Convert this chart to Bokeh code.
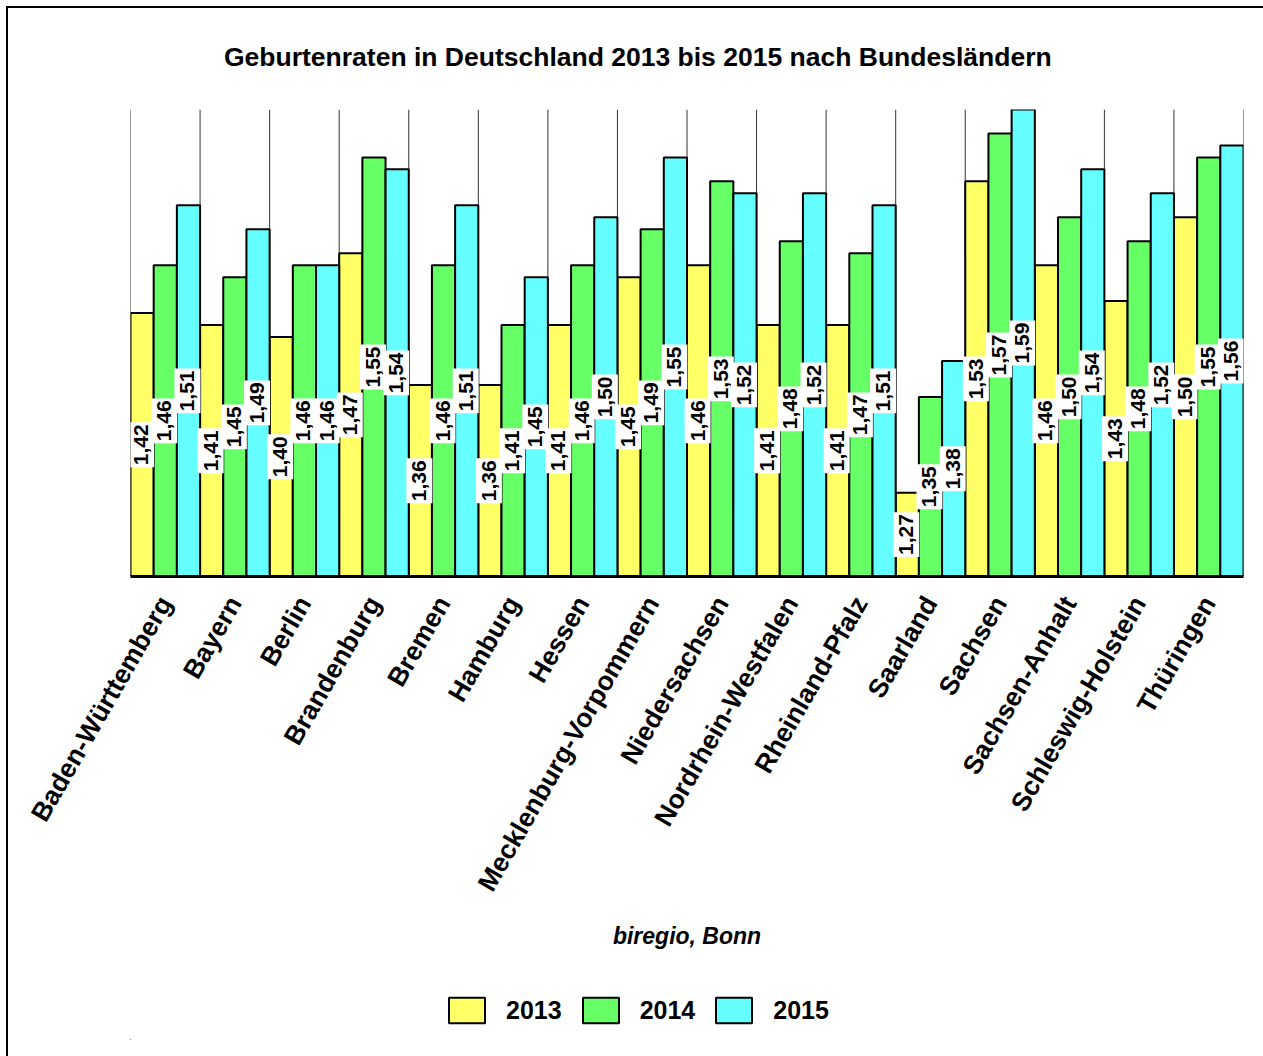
from math import pi
from bokeh.plotting import figure
from bokeh.layouts import column
from bokeh.models import (ColumnDataSource, Range1d, FactorRange, Legend, LegendItem, Title,
                          InlineStyleSheet)
from bokeh.transform import dodge
from bokeh.core.properties import value
from bokeh.embed import file_html
from bokeh.resources import INLINE

# ---- data ----
states = ["Baden-Württemberg", "Bayern", "Berlin", "Brandenburg", "Bremen", "Hamburg",
          "Hessen", "Mecklenburg-Vorpommern", "Niedersachsen", "Nordrhein-Westfalen",
          "Rheinland-Pfalz", "Saarland", "Sachsen", "Sachsen-Anhalt",
          "Schleswig-Holstein", "Thüringen"]
years = ["2013", "2014", "2015"]
rate_2013 = [1.42, 1.41, 1.40, 1.47, 1.36, 1.36, 1.41, 1.45, 1.46, 1.41, 1.41, 1.27, 1.53, 1.46, 1.43, 1.50]
rate_2014 = [1.46, 1.45, 1.46, 1.55, 1.46, 1.41, 1.46, 1.49, 1.53, 1.48, 1.47, 1.35, 1.57, 1.50, 1.48, 1.55]
rate_2015 = [1.51, 1.49, 1.46, 1.54, 1.51, 1.45, 1.50, 1.55, 1.52, 1.52, 1.51, 1.38, 1.59, 1.54, 1.52, 1.56]
colors = ["#FFFF66", "#66FF66", "#66FFFF"]
y_min = 1.20
y_max = 1.59

title_text = "Geburtenraten in Deutschland 2013 bis 2015 nach Bundesländern"
source_text = "biregio, Bonn"

FONT = "Liberation Sans"
W = 1247
LEFT, RIGHT = 130, 4

series = [rate_2013, rate_2014, rate_2015]
data = dict(state=states)
for yr, vals in zip(years, series):
    data["v" + yr] = vals
    data["m" + yr] = [(y_min + v) / 2 for v in vals]
    data["t" + yr] = [f"{v:.2f}".replace(".", ",") for v in vals]
src = ColumnDataSource(data)

p = figure(x_range=FactorRange(factors=states, range_padding=0),
           y_range=Range1d(y_min, y_max),
           width=W, height=965,
           output_backend="svg", toolbar_location=None,
           min_border_left=LEFT, min_border_right=RIGHT,
           min_border_top=109, min_border_bottom=389)
p.outline_line_color = None
p.xgrid.visible = False
p.ygrid.visible = False
p.yaxis.visible = False

# category boundary lines
bsrc = ColumnDataSource(dict(state=states))
p.segment(x0=dodge("state", 0.5, range=p.x_range), x1=dodge("state", 0.5, range=p.x_range),
          y0=y_min, y1=y_max, source=bsrc, line_color="#333333", line_width=1)
fsrc = ColumnDataSource(dict(state=states[:1]))
p.segment(x0=dodge("state", -0.5, range=p.x_range), x1=dodge("state", -0.5, range=p.x_range),
          y0=y_min, y1=y_max, source=fsrc, line_color="#333333", line_width=1)

offsets = [-1/3, 0, 1/3]
for yr, off, col in zip(years, offsets, colors):
    p.vbar(x=dodge("state", off, range=p.x_range), top="v" + yr, bottom=y_min,
           width=1/3, source=src, fill_color=col, line_color="black", line_width=2)

for yr, off in zip(years, offsets):
    p.text(x=dodge("state", off, range=p.x_range), y="m" + yr, text="t" + yr, source=src,
           angle=pi/2, text_align="center", text_baseline="middle",
           text_font=value(FONT), text_font_size="21px", text_font_style="bold",
           text_color="black", background_fill_color="white", padding=(2, 6), x_offset=-1)

# axis
ax = p.xaxis[0]
ax.major_label_orientation = pi/3
ax.major_label_text_font = FONT
ax.major_label_text_font_size = "26.5px"
ax.major_label_text_font_style = "bold"
ax.major_label_text_color = "black"
ax.major_label_standoff = 22
ax.major_tick_out = 0
ax.major_tick_in = 0
ax.minor_tick_out = 0
ax.axis_line_width = 3
ax.axis_line_color = "black"

# title
p.title = Title(text=title_text, align="left", offset=93.5, text_font=FONT,
                text_font_size="26.5px", text_font_style="bold", text_color="black",
                standoff=75)

# source note
p.add_layout(Title(text=source_text, align="center", text_font=FONT,
                   text_font_size="23px", text_font_style="bold italic",
                   text_color="black", standoff=29), "below")

# legend strip
p2 = figure(width=W, height=75, x_range=Range1d(0, 1), y_range=Range1d(0, 1),
            output_backend="svg", toolbar_location=None,
            x_axis_location=None, y_axis_location=None,
            min_border_left=LEFT, min_border_right=RIGHT, min_border_top=0, min_border_bottom=0)
p2.outline_line_color = None
p2.xgrid.visible = False
p2.ygrid.visible = False
items = []
for yr, col in zip(years, colors):
    # swatch-only renderer, its single point lies outside the visible range
    r = p2.vbar(x=[-5], top=[-5], bottom=[-6], width=0.1,
                fill_color=col, line_color="black", line_width=2)
    items.append(LegendItem(label=yr, renderers=[r]))
legend = Legend(items=items, orientation="horizontal", location=(444 - LEFT, 14),
                glyph_width=45, glyph_height=32, label_standoff=17, spacing=16,
                padding=0, margin=0, border_line_color=None, background_fill_alpha=0,
                label_text_font=FONT, label_text_font_size="25px",
                label_text_font_style="bold", label_text_color="black")
p2.add_layout(legend, "center")

frame_css = InlineStyleSheet(css=""":host::after {
  content: ""; position: fixed; left: 6px; top: 6px; right: -60px; bottom: -60px;
  border-left: 2px solid black; border-top: 2px solid black;
  pointer-events: none; z-index: 100;
}""")
layout = column(p, p2, spacing=0, stylesheets=[frame_css])

open("out.html", "w").write(file_html(layout, INLINE))
